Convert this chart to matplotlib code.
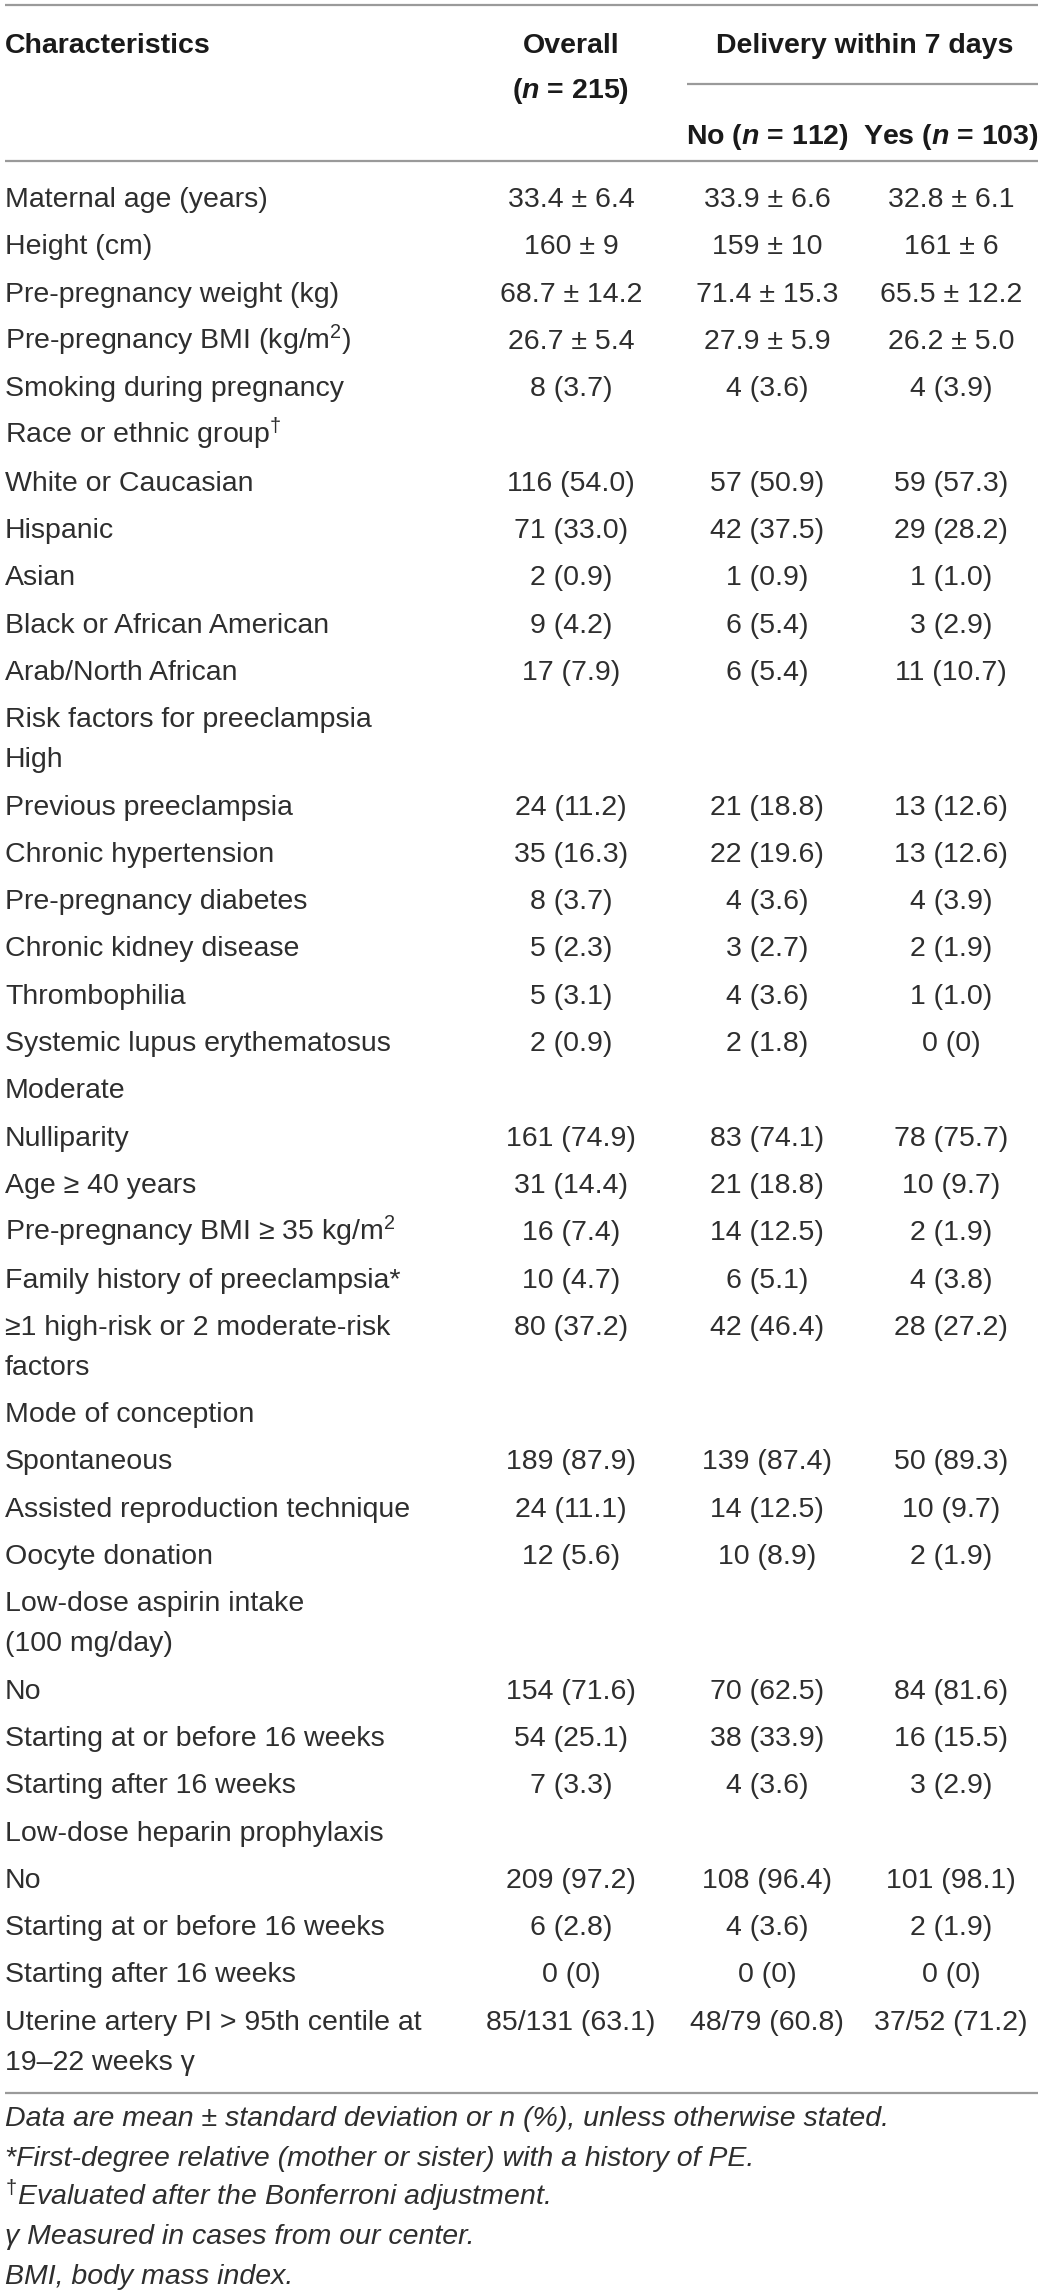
import matplotlib
matplotlib.use("Agg")
import matplotlib.pyplot as plt

plt.rcParams['font.family'] = ['Liberation Sans', 'DejaVu Sans']
plt.rcParams['mathtext.fontset'] = 'custom'
plt.rcParams['mathtext.rm'] = 'Liberation Sans'
plt.rcParams['mathtext.it'] = 'Liberation Sans:italic:bold'
plt.rcParams['mathtext.bf'] = 'Liberation Sans:bold'

# ---------------- data ----------------
header_char = "Characteristics"
header_overall = ["Overall", r"($n$ = 215)"]
header_group = "Delivery within 7 days"
header_no = r"No ($n$ = 112)"
header_yes = r"Yes ($n$ = 103)"

labels = [
    "Maternal age (years)",
    "Height (cm)",
    "Pre-pregnancy weight (kg)",
    r"Pre-pregnancy BMI (kg/m$^{2}$)",
    "Smoking during pregnancy",
    r"Race or ethnic group$^{\dagger}$",
    "White or Caucasian",
    "Hispanic",
    "Asian",
    "Black or African American",
    "Arab/North African",
    "Risk factors for preeclampsia\nHigh",
    "Previous preeclampsia",
    "Chronic hypertension",
    "Pre-pregnancy diabetes",
    "Chronic kidney disease",
    "Thrombophilia",
    "Systemic lupus erythematosus",
    "Moderate",
    "Nulliparity",
    "Age \u2265 40 years",
    "Pre-pregnancy BMI \u2265 35 kg/m$^{2}$",
    "Family history of preeclampsia*",
    "\u22651 high-risk or 2 moderate-risk\nfactors",
    "Mode of conception",
    "Spontaneous",
    "Assisted reproduction technique",
    "Oocyte donation",
    "Low-dose aspirin intake\n(100 mg/day)",
    "No",
    "Starting at or before 16 weeks",
    "Starting after 16 weeks",
    "Low-dose heparin prophylaxis",
    "No",
    "Starting at or before 16 weeks",
    "Starting after 16 weeks",
    "Uterine artery PI > 95th centile at\n19\u201322 weeks \u03b3",
]

overall = [
    "33.4 \u00b1 6.4", "160 \u00b1 9", "68.7 \u00b1 14.2", "26.7 \u00b1 5.4", "8 (3.7)", "",
    "116 (54.0)", "71 (33.0)", "2 (0.9)", "9 (4.2)", "17 (7.9)", "",
    "24 (11.2)", "35 (16.3)", "8 (3.7)", "5 (2.3)", "5 (3.1)", "2 (0.9)", "",
    "161 (74.9)", "31 (14.4)", "16 (7.4)", "10 (4.7)", "80 (37.2)", "",
    "189 (87.9)", "24 (11.1)", "12 (5.6)", "",
    "154 (71.6)", "54 (25.1)", "7 (3.3)", "",
    "209 (97.2)", "6 (2.8)", "0 (0)", "85/131 (63.1)",
]

no_group = [
    "33.9 \u00b1 6.6", "159 \u00b1 10", "71.4 \u00b1 15.3", "27.9 \u00b1 5.9", "4 (3.6)", "",
    "57 (50.9)", "42 (37.5)", "1 (0.9)", "6 (5.4)", "6 (5.4)", "",
    "21 (18.8)", "22 (19.6)", "4 (3.6)", "3 (2.7)", "4 (3.6)", "2 (1.8)", "",
    "83 (74.1)", "21 (18.8)", "14 (12.5)", "6 (5.1)", "42 (46.4)", "",
    "139 (87.4)", "14 (12.5)", "10 (8.9)", "",
    "70 (62.5)", "38 (33.9)", "4 (3.6)", "",
    "108 (96.4)", "4 (3.6)", "0 (0)", "48/79 (60.8)",
]

yes_group = [
    "32.8 \u00b1 6.1", "161 \u00b1 6", "65.5 \u00b1 12.2", "26.2 \u00b1 5.0", "4 (3.9)", "",
    "59 (57.3)", "29 (28.2)", "1 (1.0)", "3 (2.9)", "11 (10.7)", "",
    "13 (12.6)", "13 (12.6)", "4 (3.9)", "2 (1.9)", "1 (1.0)", "0 (0)", "",
    "78 (75.7)", "10 (9.7)", "2 (1.9)", "4 (3.8)", "28 (27.2)", "",
    "50 (89.3)", "10 (9.7)", "2 (1.9)", "",
    "84 (81.6)", "16 (15.5)", "3 (2.9)", "",
    "101 (98.1)", "2 (1.9)", "0 (0)", "37/52 (71.2)",
]

footnotes = [
    "Data are mean \u00b1 standard deviation or n (%), unless otherwise stated.",
    "*First-degree relative (mother or sister) with a history of PE.",
    r"$^{\dagger}$Evaluated after the Bonferroni adjustment.",
    "\u03b3 Measured in cases from our center.",
    "BMI, body mass index.",
]

# ---------------- layout ----------------
W, H = 1040, 2291
fig = plt.figure(figsize=(W / 100, H / 100), dpi=100)
ax = fig.add_axes([0, 0, 1, 1])
ax.set_xlim(0, W)
ax.set_ylim(H, 0)
ax.axis('off')

FS = 20.5
TXT = '#2e2e2e'
HDR = '#1a1a1a'
RULE = '#9a9a9a'
BASE = 10  # baseline offset from visual centre

x_label = 5
x_over, x_no, x_yes = 571, 767, 951

# rules
ax.plot([5, 1038], [5, 5], color=RULE, lw=1.6, solid_capstyle='butt')
ax.plot([687, 1038], [84, 84], color=RULE, lw=1.6, solid_capstyle='butt')
ax.plot([5, 1038], [161, 161], color=RULE, lw=1.6, solid_capstyle='butt')
ax.plot([5, 1038], [2093, 2093], color=RULE, lw=1.6, solid_capstyle='butt')

# header
hk = dict(fontsize=FS, fontweight='bold', color=HDR, va='baseline')
ax.text(x_label, 43 + BASE, header_char, ha='left', **hk)
ax.text(x_over, 43 + BASE, header_overall[0], ha='center', **hk)
ax.text(x_over, 88 + BASE, header_overall[1], ha='center', **hk)
ax.text((x_no + x_yes) / 2 + 6, 43 + BASE, header_group, ha='center', **hk)
ax.text(x_no, 134 + BASE, header_no, ha='center', **hk)
ax.text(x_yes, 134 + BASE, header_yes, ha='center', **hk)

# body
row_step = 47.3
line_step = 40.0
y = 197.0
bk = dict(fontsize=FS, color=TXT, va='baseline')
for lab, o, n_, ye in zip(labels, overall, no_group, yes_group):
    lines = lab.split("\n")
    for i, ln in enumerate(lines):
        ax.text(x_label, y + i * line_step + BASE, ln, ha='left', **bk)
    ax.text(x_over, y + BASE, o, ha='center', **bk)
    ax.text(x_no, y + BASE, n_, ha='center', **bk)
    ax.text(x_yes, y + BASE, ye, ha='center', **bk)
    y += (len(lines) - 1) * line_step + row_step

# footnotes
fy = 2116
for fn in footnotes:
    ax.text(x_label, fy + BASE, fn, ha='left', fontsize=FS,
            style='italic', color=TXT, va='baseline')
    fy += 39.5

fig.savefig("out.png", dpi=100)
